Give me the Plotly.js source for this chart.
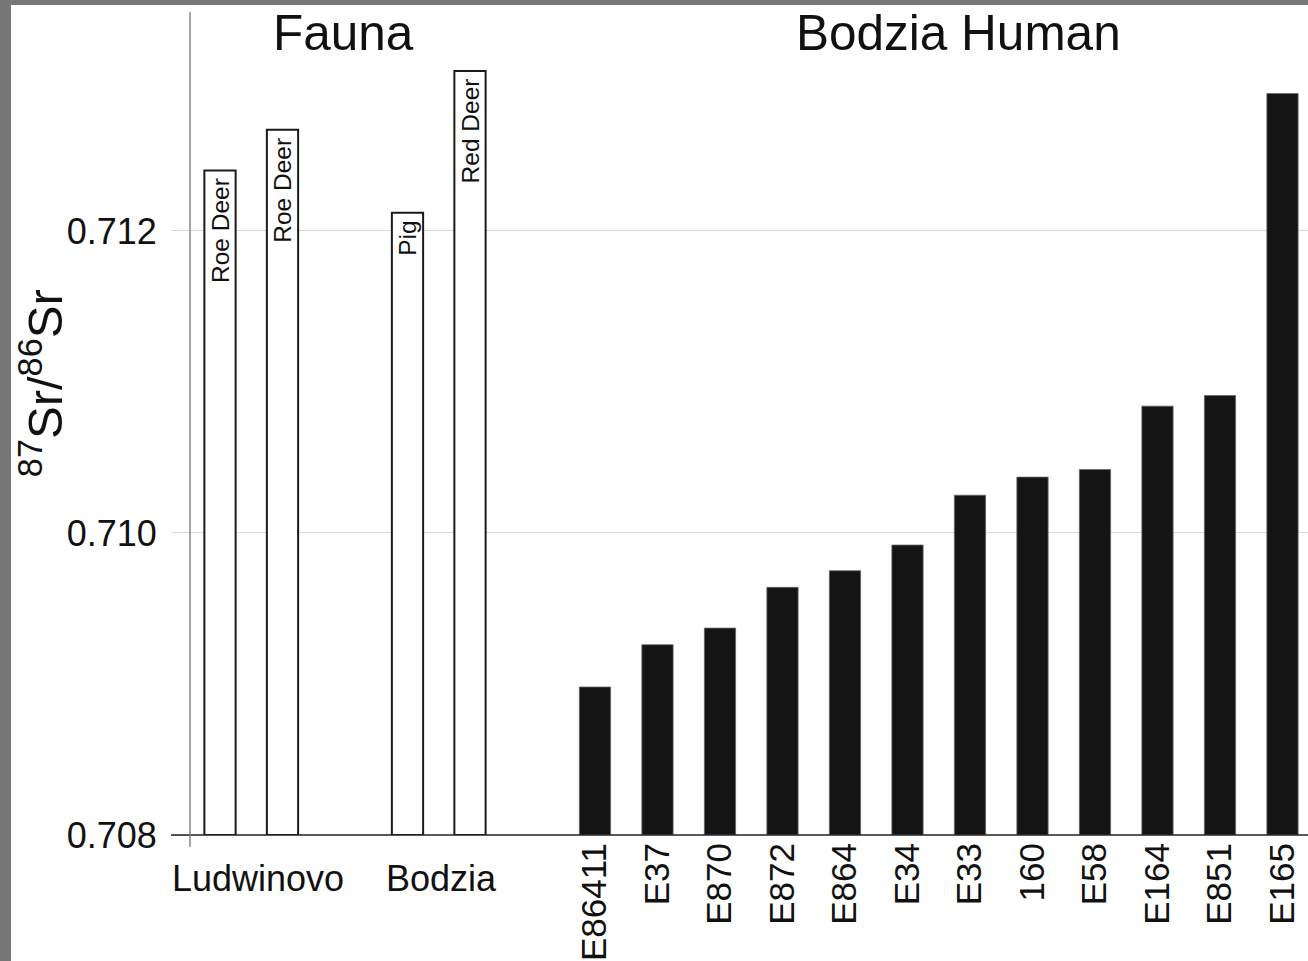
<!DOCTYPE html>
<html>
<head>
<meta charset="utf-8">
<script src="https://cdn.plot.ly/plotly-3.0.1.min.js"></script>
<style>
  html, body { margin: 0; padding: 0; background: #777777; width: 1308px; height: 961px; overflow: hidden; }
  #chart { position: absolute; left: 11px; top: 5px; width: 1297px; height: 956px; background: #ffffff; }
</style>
</head>
<body>
<div id="chart"></div>
<script>
// ---- data ----
const faunaSite = ['Ludwinovo', 'Ludwinovo', 'Bodzia', 'Bodzia'];
const faunaSpecies = ['Roe Deer', 'Roe Deer', 'Pig', 'Red Deer'];
const faunaSr = [0.71240, 0.71267, 0.71212, 0.71306];

const humanIds = ['E86411', 'E37', 'E870', 'E872', 'E864', 'E34', 'E33', '160', 'E58', 'E164', 'E851', 'E165'];
const humanSr = [0.70898, 0.70926, 0.70937, 0.70964, 0.70975, 0.70992, 0.71025, 0.71037, 0.71042, 0.71084, 0.71091, 0.71291];

const yTickVals = [0.708, 0.710, 0.712];
const yTickText = ['0.708', '0.710', '0.712'];
const groupTitles = ['Fauna', 'Bodzia Human'];
const yTitle = '<sup>87</sup>Sr/<sup>86</sup>Sr';

// ---- layout of slots (category slots, one unit apart) ----
const sites = [...new Set(faunaSite)];
const slotsPerSite = 3;
const faunaX = [];
const siteCenters = [];
sites.forEach((s, g) => {
  const idx = [];
  faunaSite.forEach((fs, i) => { if (fs === s) idx.push(i); });
  idx.forEach((i, j) => { faunaX[i] = g * slotsPerSite + j; });
  siteCenters.push(g * slotsPerSite + (idx.length - 1) / 2);
});
const humanStart = sites.length * slotsPerSite;
const humanX = humanIds.map((_, i) => humanStart + i);

const base = yTickVals[0];
const FONT = 'Arial, "Liberation Sans", Helvetica, sans-serif';

const traces = [
  {
    type: 'bar',
    x: faunaX,
    y: faunaSr.map(v => v - base),
    base: base,
    marker: { color: '#ffffff', line: { color: '#1a1a1a', width: 2 } },
    hoverinfo: 'skip',
    showlegend: false
  },
  {
    type: 'bar',
    x: humanX,
    y: humanSr.map(v => v - base),
    base: base,
    marker: { color: '#141414', line: { color: '#666666', width: 0.8 } },
    hoverinfo: 'skip',
    showlegend: false
  }
];

const yTop = 0.713450;
const plotW = 1118, plotH = 823;

const annotations = [
  { text: groupTitles[0], x: siteCenters.reduce((a, b) => a + b, 0) / siteCenters.length, xref: 'x', xshift: -2,
    y: 0.975, yref: 'paper',
    xanchor: 'center', yanchor: 'middle', showarrow: false, font: { family: FONT, size: 49.5, color: '#111111' } },
  { text: groupTitles[1], x: (humanX[0] + humanX[humanX.length - 1]) / 2, xref: 'x', xshift: 20,
    y: 0.975, yref: 'paper',
    xanchor: 'center', yanchor: 'middle', showarrow: false, font: { family: FONT, size: 49.5, color: '#111111' } },
  { text: yTitle, x: 0, xref: 'paper', xshift: -148, y: 0.549, yref: 'paper', textangle: -90,
    xanchor: 'center', yanchor: 'middle', showarrow: false, font: { family: FONT, size: 49, color: '#111111' } }
];
sites.forEach((s, g) => {
  annotations.push({ text: s, x: siteCenters[g], xref: 'x', xshift: g === 0 ? 7 : 3, y: 0, yref: 'paper', yanchor: 'top', yshift: -21,
    xanchor: 'center', showarrow: false, font: { family: FONT, size: 36, color: '#111111' } });
});
// species labels inside the fauna bars, reading upward from near the bar top
faunaSpecies.forEach((sp, i) => {
  annotations.push({ text: sp, x: faunaX[i], xref: 'x', y: faunaSr[i], yref: 'y', textangle: -90,
    xanchor: 'center', yanchor: 'top', yshift: -6, showarrow: false,
    font: { family: FONT, size: 24.5, color: '#111111' } });
});

const layout = {
  width: 1297, height: 956,
  margin: { l: 179, r: 0, t: 7, b: 126, pad: 0 },
  paper_bgcolor: '#ffffff', plot_bgcolor: '#ffffff',
  bargap: 0.5,
  xaxis: {
    type: 'linear', range: [-0.48, -0.48 + plotW / 62.5],
    tickvals: humanX, ticktext: humanIds, tickangle: -90,
    tickfont: { family: FONT, size: 35, color: '#111111' },
    ticks: '', showgrid: false, zeroline: false, showline: false, automargin: false,
    ticklabelstandoff: 0, fixedrange: true
  },
  yaxis: {
    range: [base, yTop],
    tickvals: yTickVals, ticktext: yTickText,
    tickfont: { family: FONT, size: 36, color: '#111111' },
    ticks: 'outside', ticklen: 17, tickcolor: '#d8d8d8', tickwidth: 1,
    showgrid: true, gridcolor: '#d8d8d8', gridwidth: 1,
    zeroline: false, showline: false, automargin: false, ticklabelstandoff: 8, fixedrange: true
  },
  shapes: [
    { type: 'line', xref: 'paper', yref: 'paper', x0: -19 / plotW, x1: 1, y0: 0, y1: 0,
      line: { color: '#222222', width: 1.5 }, layer: 'above' },
    { type: 'line', xref: 'paper', yref: 'paper', x0: 0, x1: 0, y0: -12 / plotH, y1: 1,
      line: { color: '#777777', width: 1.3 }, layer: 'above' }
  ],
  annotations: annotations,
  showlegend: false
};

Plotly.newPlot('chart', traces, layout, { displayModeBar: false, staticPlot: true });
</script>
</body>
</html>
